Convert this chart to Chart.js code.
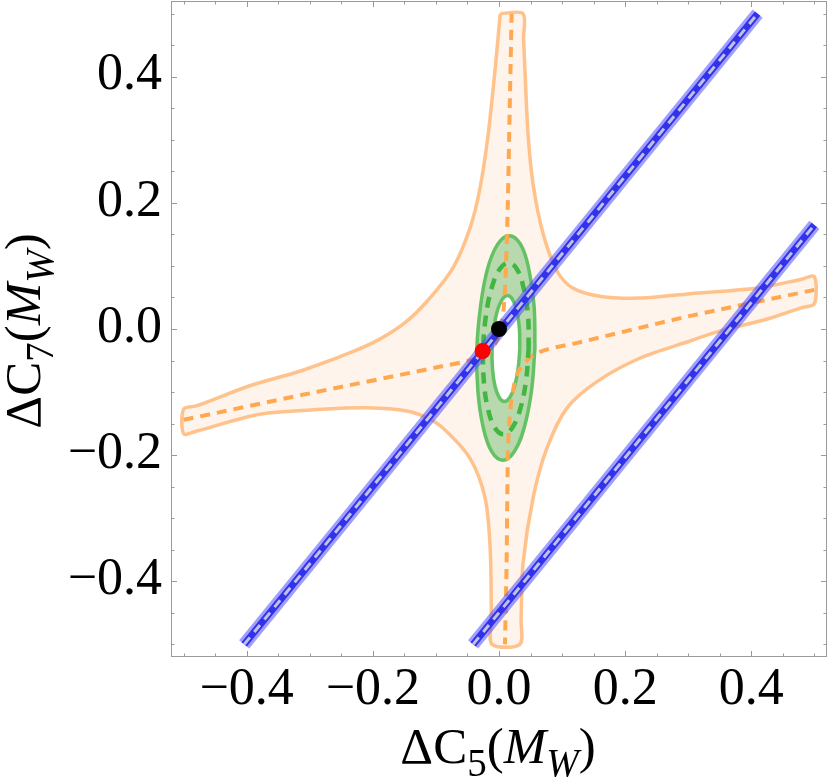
<!DOCTYPE html>
<html><head><meta charset="utf-8">
<script src="https://cdn.jsdelivr.net/npm/chart.js@4.4.1/dist/chart.umd.min.js"></script>
<style>html,body{margin:0;padding:0;background:#fff;overflow:hidden}#wrap{width:830px;height:781px;position:relative}</style>
</head><body><div id="wrap"><canvas id="c" width="830" height="781"></canvas></div>
<script>
// ---------- axis data ----------
const xRange = [-0.52, 0.52];
const yRange = [-0.52, 0.52];
const xTicks = [-0.4, -0.2, 0, 0.2, 0.4];
const xTickLabels = ['−0.4', '−0.2', '0.0', '0.2', '0.4'];
const yTicks = [-0.4, -0.2, 0, 0.2, 0.4];
const yTickLabels = ['−0.4', '−0.2', '0.0', '0.2', '0.4'];
const minorTicks = [-0.5,-0.45,-0.4,-0.35,-0.3,-0.25,-0.2,-0.15,-0.1,-0.05,0,0.05,0.1,0.15,0.2,0.25,0.3,0.35,0.4,0.45,0.5];
const xTitleParts = [['ΔC','r'],['5','sub'],['(','r'],['M','i'],['W','isub'],[')','r']];
const yTitleParts = [['ΔC','r'],['7','sub'],['(','r'],['M','i'],['W','isub'],[')','r']];

// ---------- orange (cross-shaped) region boundary ----------
const orangeRegion = [
  [0.002,0.5],[-0.006,0.414],[-0.017,0.310],[-0.030,0.224],[-0.046,0.160],[-0.073,0.097],
  [-0.114,0.044],[-0.149,0.010],[-0.189,-0.016],[-0.237,-0.038],[-0.316,-0.067],[-0.395,-0.090],
  [-0.48,-0.122],[-0.5,-0.127],[-0.5,-0.166],[-0.48,-0.162],
  [-0.379,-0.135],[-0.273,-0.127],[-0.210,-0.125],[-0.146,-0.130],[-0.114,-0.141],[-0.089,-0.157],
  [-0.046,-0.205],[-0.022,-0.268],[-0.014,-0.348],[-0.012,-0.46],[-0.011,-0.5],
  [0.033,-0.5],[0.035,-0.46],[0.038,-0.373],[0.054,-0.268],[0.076,-0.189],[0.108,-0.125],
  [0.156,-0.083],[0.224,-0.046],[0.303,-0.019],[0.351,-0.003],[0.430,0.017],[0.48,0.034],
  [0.5,0.040],[0.5,0.083],[0.48,0.079],
  [0.410,0.065],[0.303,0.056],[0.224,0.049],[0.160,0.052],[0.117,0.065],[0.092,0.092],
  [0.070,0.151],[0.054,0.230],[0.046,0.310],[0.041,0.414],[0.039,0.46],[0.038,0.5],
  [0.002,0.5]
];
// dashed orange centre curves
const orangeDashA = [[-0.5,-0.144],[-0.3,-0.102],[-0.1,-0.061],[-0.03,-0.045],[-0.01,-0.03],
  [0.003,0.0],[0.008,0.04],[0.011,0.1],[0.014,0.2],[0.017,0.35],[0.02,0.5]];
const orangeDashB = [[0.5,0.062],[0.3,0.02],[0.124,-0.022],[0.078,-0.032],[0.052,-0.043],[0.030,-0.069],
  [0.020,-0.111],[0.016,-0.154],[0.014,-0.2],[0.012,-0.373],[0.0095,-0.5]];

// ---------- green ellipses ----------
const greenOuter = [[0.057,-0.030],[0.0555,0.038],[0.047,0.096],[0.034,0.1345],[0.016,0.148],
  [-0.002,0.1345],[-0.018,0.096],[-0.029,0.038],[-0.035,-0.030],[-0.0335,-0.098],[-0.025,-0.156],
  [-0.0115,-0.1945],[0.006,-0.208],[0.024,-0.1945],[0.040,-0.156],[0.0515,-0.098],[0.057,-0.030]];
const greenMid = [[0.047,-0.031],[0.046,0.021],[0.039,0.065],[0.0286,0.0946],[0.015,0.105],
  [0.001,0.0946],[-0.0116,0.065],[-0.0207,0.021],[-0.025,-0.031],[-0.024,-0.083],[-0.0174,-0.127],
  [-0.0066,-0.1566],[0.007,-0.167],[0.021,-0.1566],[0.0336,-0.127],[0.0427,-0.083],[0.047,-0.031]];
const greenInner = [[0.033,-0.031],[0.0323,0.001],[0.0284,0.0284],[0.0217,0.0466],[0.0135,0.053],
  [0.0049,0.0466],[-0.0028,0.0284],[-0.0083,0.001],[-0.011,-0.031],[-0.0103,-0.0631],[-0.0064,-0.0904],
  [0.0003,-0.1086],[0.0085,-0.115],[0.0171,-0.1086],[0.0248,-0.0904],[0.0303,-0.0631],[0.033,-0.031]];

// ---------- blue bands ----------
const blueLine1 = [[-0.404,-0.5],[0.41,0.5]];
const blueLine2 = [[-0.041,-0.5],[0.5,0.165]];

// ---------- points ----------
const blackPoint = [[0.0,0.0]];
const redPoint = [[-0.026,-0.035]];

const P = a => a.map(p => ({x:p[0], y:p[1]}));
const SERIF = '"Liberation Serif","DejaVu Serif",serif';

function lineDS(data, o){
  return Object.assign({type:'scatter', data:P(data), showLine:true, pointRadius:0, pointHoverRadius:0,
    fill:false, tension:0, borderCapStyle:'butt', borderJoinStyle:'round'}, o);
}

const datasets = [
  lineDS(orangeRegion,{fill:'shape', backgroundColor:'rgba(255,190,140,0.17)', borderColor:'rgba(255,185,120,0.85)', borderWidth:3.5, tension:0.3, order:20}),
  lineDS(greenOuter,{fill:'shape', backgroundColor:'rgba(95,185,95,0.45)', borderColor:'rgb(100,194,100)', borderWidth:3.5, tension:0.4, order:19}),
  lineDS(greenInner,{fill:'shape', backgroundColor:'#ffffff', borderColor:'rgb(100,194,100)', borderWidth:3.5, tension:0.4, order:18}),
  lineDS(orangeDashA,{borderColor:'rgb(255,168,80)', borderWidth:4, borderDash:[10,7], tension:0.3, order:17}),
  lineDS(orangeDashB,{borderColor:'rgb(255,168,80)', borderWidth:4, borderDash:[10,7], tension:0.3, order:16}),
  lineDS(greenMid,{borderColor:'rgb(65,182,65)', borderWidth:4.5, borderDash:[11,8], tension:0.4, order:15}),
  lineDS(blueLine1,{borderColor:'rgba(80,80,255,0.55)', borderWidth:13, order:10}),
  lineDS(blueLine2,{borderColor:'rgba(80,80,255,0.55)', borderWidth:13, order:9}),
  lineDS(blueLine1,{borderColor:'rgb(50,50,236)', borderWidth:7, order:8}),
  lineDS(blueLine2,{borderColor:'rgb(50,50,236)', borderWidth:7, order:7}),
  lineDS(blueLine1,{borderColor:'rgba(200,200,225,0.95)', borderWidth:3, borderDash:[9,7], order:6}),
  lineDS(blueLine2,{borderColor:'rgba(200,200,225,0.95)', borderWidth:3, borderDash:[9,7], order:5}),
  {type:'scatter', data:P(blackPoint), pointRadius:8, pointBackgroundColor:'#000', pointBorderWidth:0, order:1},
  {type:'scatter', data:P(redPoint), pointRadius:8, pointBackgroundColor:'#ff0000', pointBorderWidth:0, order:0}
];

const framePlugin = {
  id:'frame',
  afterDatasetsDraw(chart){
    const {ctx, chartArea:a, scales:{x, y}} = chart;
    ctx.save();
    ctx.strokeStyle = '#9a9a9a'; ctx.lineWidth = 1;
    ctx.strokeRect(a.left+0.5, a.top+0.5, a.right-a.left-1, a.bottom-a.top-1);
    ctx.beginPath();
    minorTicks.forEach(v => {
      const major = xTicks.some(t => Math.abs(t-v) < 1e-9);
      const L = major ? 6 : 3.5;
      const px = Math.round(x.getPixelForValue(v))+0.5;
      ctx.moveTo(px, a.bottom); ctx.lineTo(px, a.bottom-L);
      ctx.moveTo(px, a.top); ctx.lineTo(px, a.top+L);
      const py = Math.round(y.getPixelForValue(v))+0.5;
      ctx.moveTo(a.left, py); ctx.lineTo(a.left+L, py);
      ctx.moveTo(a.right, py); ctx.lineTo(a.right-L, py);
    });
    ctx.stroke();
    ctx.restore();
  }
};

function drawRich(ctx, parts, cx, baseY, main, sub, dy){
  const fontOf = k => (k==='i'||k==='isub' ? 'italic ' : '') + ((k==='sub'||k==='isub') ? sub : main) + 'px ' + SERIF;
  let total = 0;
  parts.forEach(([t,k]) => { ctx.font = fontOf(k); total += ctx.measureText(t).width; });
  let xx = cx - total/2;
  ctx.textBaseline = 'alphabetic'; ctx.textAlign = 'left'; ctx.fillStyle = '#000';
  parts.forEach(([t,k]) => {
    ctx.font = fontOf(k);
    ctx.fillText(t, xx, baseY + ((k==='sub'||k==='isub') ? dy : 0));
    xx += ctx.measureText(t).width;
  });
}

const titlePlugin = {
  id:'titles',
  afterDraw(chart){
    const ctx = chart.ctx;
    ctx.save();
    drawRich(ctx, xTitleParts, 498, 763, 51, 39, 13);
    ctx.translate(40, 331);
    ctx.rotate(-Math.PI/2);
    drawRich(ctx, yTitleParts, 0, 0, 51, 39, 13);
    ctx.restore();
  }
};

const noPad = s => { s.paddingTop = 0; s.paddingBottom = 0; s.paddingLeft = 0; s.paddingRight = 0; };

new Chart(document.getElementById('c'), {
  data:{datasets},
  options:{
    responsive:false, animation:false, devicePixelRatio:1,
    layout:{autoPadding:false, padding:{top:1, right:3, left:0, bottom:0}},
    plugins:{legend:{display:false}, tooltip:{enabled:false}},
    events:[],
    scales:{
      x:{type:'linear', min:xRange[0], max:xRange[1],
        afterBuildTicks:s => { s.ticks = xTicks.map(v => ({value:v})); },
        afterFit:s => { s.height = 124; noPad(s); },
        grid:{display:false, drawTicks:false}, border:{display:false},
        ticks:{autoSkip:false, maxRotation:0, padding:2, color:'#000', font:{family:SERIF, size:52},
          callback:(v,i) => xTickLabels[i]}},
      y:{type:'linear', min:yRange[0], max:yRange[1],
        afterBuildTicks:s => { s.ticks = yTicks.map(v => ({value:v})); },
        afterFit:s => { s.width = 171; noPad(s); },
        grid:{display:false, drawTicks:false}, border:{display:false},
        ticks:{autoSkip:false, padding:9, color:'#000', font:{family:SERIF, size:52}, labelOffset:-1,
          callback:(v,i) => yTickLabels[i]}}
    }
  },
  plugins:[framePlugin, titlePlugin]
});
</script></body></html>
